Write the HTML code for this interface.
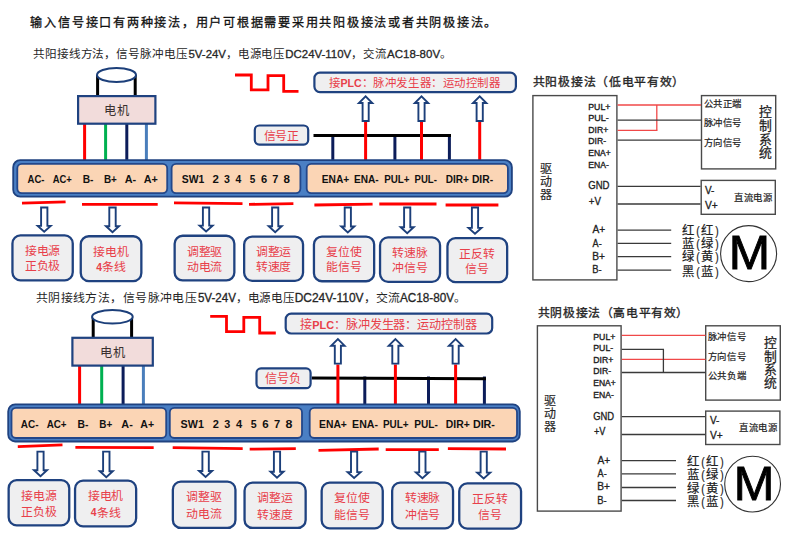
<!DOCTYPE html>
<html lang="zh-CN"><head><meta charset="utf-8"><title>输入信号接线图</title>
<style>
html,body{margin:0;padding:0;background:#fff;}
body{width:790px;height:540px;overflow:hidden;font-family:"Liberation Sans",sans-serif;}
svg{display:block;}
svg text{font-family:"Liberation Sans",sans-serif;text-spacing-trim:space-all;}
</style></head><body>
<svg width="790" height="540" viewBox="0 0 790 540">
<rect width="790" height="540" fill="#fff"/>
<text x="30.47" y="27.04" font-size="12.1" fill="#111" textLength="466.00" lengthAdjust="spacing" stroke="#111" stroke-width="0.3">输入信号接口有两种接法，用户可根据需要采用共阳极接法或者共阴极接法。</text>
<text x="33.10" y="58.23" font-size="11.6" fill="#262626" textLength="154.40" lengthAdjust="spacing">共阳接线方法，信号脉冲电压</text>
<text x="188.50" y="58.23" font-size="11.6" fill="#262626" textLength="96.50" lengthAdjust="spacingAndGlyphs"><tspan stroke="#262626" stroke-width="0.3">5V-24V</tspan>，电源电压</text>
<text x="285.30" y="58.23" font-size="11.6" fill="#262626" textLength="101.40" lengthAdjust="spacingAndGlyphs"><tspan stroke="#262626" stroke-width="0.3">DC24V-110V</tspan>，交流</text>
<text x="387.00" y="58.23" font-size="11.6" fill="#262626" textLength="65.00" lengthAdjust="spacingAndGlyphs"><tspan stroke="#262626" stroke-width="0.3">AC18-80V</tspan>。</text>
<text x="35.79" y="302.48" font-size="11.9" fill="#262626" textLength="161.10" lengthAdjust="spacing">共阴接线方法，信号脉冲电压</text>
<text x="197.90" y="302.48" font-size="11.9" fill="#262626" textLength="96.50" lengthAdjust="spacingAndGlyphs"><tspan stroke="#262626" stroke-width="0.3">5V-24V</tspan>，电源电压</text>
<text x="294.70" y="302.48" font-size="11.9" fill="#262626" textLength="105.00" lengthAdjust="spacingAndGlyphs"><tspan stroke="#262626" stroke-width="0.3">DC24V-110V</tspan>，交流</text>
<text x="400.00" y="302.48" font-size="11.9" fill="#262626" textLength="66.00" lengthAdjust="spacingAndGlyphs"><tspan stroke="#262626" stroke-width="0.3">AC18-80V</tspan>。</text>
<line x1="97.6" y1="75" x2="97.6" y2="96.0" stroke="#000" stroke-width="3" stroke-linecap="butt"/>
<line x1="135.2" y1="75" x2="135.2" y2="96.0" stroke="#000" stroke-width="3" stroke-linecap="butt"/>
<ellipse cx="116.5" cy="75" rx="19.5" ry="7" fill="#fff" stroke="#1c3f7a" stroke-width="2"/>
<line x1="84.6" y1="123.8" x2="84.6" y2="160.9" stroke="#ff0000" stroke-width="3" stroke-linecap="butt"/>
<line x1="105.6" y1="123.8" x2="105.6" y2="160.9" stroke="#00b050" stroke-width="3" stroke-linecap="butt"/>
<line x1="126.8" y1="123.8" x2="126.8" y2="160.9" stroke="#0c1d5a" stroke-width="3" stroke-linecap="butt"/>
<line x1="146.4" y1="123.8" x2="146.4" y2="160.9" stroke="#4a7ebb" stroke-width="3" stroke-linecap="butt"/>
<rect x="78.10" y="96.10" width="77.30" height="27.60" rx="0" fill="#f2dcdb" stroke="#1f4280" stroke-width="2.2"/>
<text x="104.31" y="114.81" font-size="12.3" fill="#3a3030" textLength="24.60" lengthAdjust="spacing">电机</text>
<polyline points="235,75 251.3,75 251.3,89.8 268,89.8 268,75.7 283.7,75.7 283.7,91.3 298.5,91.3" fill="none" stroke="#ff0000" stroke-width="2.8"/>
<rect x="314.40" y="72.60" width="201.50" height="19.50" rx="5.5" fill="#efeff0" stroke="#1f4280" stroke-width="2.2"/>
<text x="329.00" y="87.40" font-size="11.9" fill="#e8404a" textLength="171.50" lengthAdjust="spacingAndGlyphs">接<tspan font-weight="bold" font-family="Liberation Sans, sans-serif" font-size="11">PLC</tspan>：脉冲发生器：运动控制器</text>
<line x1="332.8" y1="134" x2="332.8" y2="160" stroke="#0c1d5a" stroke-width="3" stroke-linecap="butt"/>
<line x1="394.9" y1="134" x2="394.9" y2="160" stroke="#0c1d5a" stroke-width="3" stroke-linecap="butt"/>
<line x1="449.4" y1="134" x2="449.4" y2="160" stroke="#0c1d5a" stroke-width="3" stroke-linecap="butt"/>
<line x1="313.5" y1="135.5" x2="451" y2="135.5" stroke="#000" stroke-width="3" stroke-linecap="butt"/>
<line x1="365.6" y1="122.0" x2="365.6" y2="160" stroke="#ff0000" stroke-width="3" stroke-linecap="butt"/>
<polygon points="362.6,121.0 368.7,121.0 368.7,103.0 372.3,103.0 365.6,96.3 358.9,103.0 362.6,103.0" fill="#fff" stroke="#1c3f7a" stroke-width="1.9"/>
<line x1="421.5" y1="122.0" x2="421.5" y2="160" stroke="#ff0000" stroke-width="3" stroke-linecap="butt"/>
<polygon points="418.4,121.0 424.6,121.0 424.6,103.0 428.2,103.0 421.5,96.3 414.8,103.0 418.4,103.0" fill="#fff" stroke="#1c3f7a" stroke-width="1.9"/>
<line x1="479.7" y1="122.0" x2="479.7" y2="160" stroke="#ff0000" stroke-width="3" stroke-linecap="butt"/>
<polygon points="476.6,121.0 482.8,121.0 482.8,103.0 486.4,103.0 479.7,96.3 473.0,103.0 476.6,103.0" fill="#fff" stroke="#1c3f7a" stroke-width="1.9"/>
<rect x="254.80" y="125.50" width="53.40" height="19.10" rx="4.5" fill="#efeff0" stroke="#1f4280" stroke-width="2.2"/>
<text x="263.59" y="140.08" font-size="11.9" fill="#e8404a" textLength="35.70" lengthAdjust="spacing">信号正</text>
<rect x="13.20" y="160.20" width="498.70" height="36.50" rx="7" fill="#4a7fc4" stroke="#1f4280" stroke-width="1.8"/>
<rect x="17.30" y="163.90" width="149.90" height="29.20" rx="4.5" fill="#fbd5b5" stroke="#23478a" stroke-width="1.8"/>
<rect x="171.60" y="163.90" width="128.80" height="29.20" rx="4.5" fill="#fbd5b5" stroke="#23478a" stroke-width="1.8"/>
<rect x="306.70" y="163.90" width="201.20" height="29.20" rx="4.5" fill="#fbd5b5" stroke="#23478a" stroke-width="1.8"/>
<text x="27.56" y="183.20" font-size="10.6" fill="#111" font-weight="bold" textLength="16.89" lengthAdjust="spacingAndGlyphs">AC-</text>
<text x="52.66" y="183.20" font-size="10.6" fill="#111" font-weight="bold" textLength="19.10" lengthAdjust="spacingAndGlyphs">AC+</text>
<text x="82.64" y="183.20" font-size="10.6" fill="#111" font-weight="bold" textLength="10.77" lengthAdjust="spacingAndGlyphs">B-</text>
<text x="103.96" y="183.20" font-size="10.6" fill="#111" font-weight="bold" textLength="12.95" lengthAdjust="spacingAndGlyphs">B+</text>
<text x="124.73" y="183.20" font-size="10.6" fill="#111" font-weight="bold" textLength="11.41" lengthAdjust="spacingAndGlyphs">A-</text>
<text x="143.73" y="183.20" font-size="10.6" fill="#111" font-weight="bold" textLength="14.12" lengthAdjust="spacingAndGlyphs">A+</text>
<text x="181.74" y="183.20" font-size="10.6" fill="#111" font-weight="bold" textLength="22.54" lengthAdjust="spacingAndGlyphs">SW1</text>
<text x="212.56" y="183.20" font-size="10.6" fill="#111" font-weight="bold" textLength="6.36" lengthAdjust="spacingAndGlyphs">2</text>
<text x="224.09" y="183.20" font-size="10.6" fill="#111" font-weight="bold" textLength="5.90" lengthAdjust="spacingAndGlyphs">3</text>
<text x="235.54" y="183.20" font-size="10.6" fill="#111" font-weight="bold" textLength="5.77" lengthAdjust="spacingAndGlyphs">4</text>
<text x="249.70" y="183.20" font-size="10.6" fill="#111" font-weight="bold" textLength="5.56" lengthAdjust="spacingAndGlyphs">5</text>
<text x="261.11" y="183.20" font-size="10.6" fill="#111" font-weight="bold" textLength="6.19" lengthAdjust="spacingAndGlyphs">6</text>
<text x="272.16" y="183.20" font-size="10.6" fill="#111" font-weight="bold" textLength="6.09" lengthAdjust="spacingAndGlyphs">7</text>
<text x="283.55" y="183.20" font-size="10.6" fill="#111" font-weight="bold" textLength="6.45" lengthAdjust="spacingAndGlyphs">8</text>
<text x="321.84" y="183.20" font-size="10.6" fill="#111" font-weight="bold" textLength="27.47" lengthAdjust="spacingAndGlyphs">ENA+</text>
<text x="354.04" y="183.20" font-size="10.6" fill="#111" font-weight="bold" textLength="24.65" lengthAdjust="spacingAndGlyphs">ENA-</text>
<text x="384.16" y="183.20" font-size="10.6" fill="#111" font-weight="bold" textLength="25.32" lengthAdjust="spacingAndGlyphs">PUL+</text>
<text x="414.58" y="183.20" font-size="10.6" fill="#111" font-weight="bold" textLength="22.29" lengthAdjust="spacingAndGlyphs">PUL-</text>
<text x="445.65" y="183.20" font-size="10.6" fill="#111" font-weight="bold" textLength="23.17" lengthAdjust="spacingAndGlyphs">DIR+</text>
<text x="471.93" y="183.20" font-size="10.6" fill="#111" font-weight="bold" textLength="21.18" lengthAdjust="spacingAndGlyphs">DIR-</text>
<line x1="22" y1="203.2" x2="65.6" y2="201.8" stroke="#ff0000" stroke-width="2.8" stroke-linecap="butt"/>
<line x1="82" y1="204.3" x2="157.7" y2="204.3" stroke="#ff0000" stroke-width="2.8" stroke-linecap="butt"/>
<line x1="174" y1="202.8" x2="242.5" y2="203.6" stroke="#ff0000" stroke-width="2.8" stroke-linecap="butt"/>
<line x1="249" y1="204.4" x2="293.4" y2="203.6" stroke="#ff0000" stroke-width="2.8" stroke-linecap="butt"/>
<line x1="314.4" y1="205" x2="372.6" y2="204.2" stroke="#ff0000" stroke-width="2.8" stroke-linecap="butt"/>
<line x1="379.3" y1="204" x2="436.5" y2="204" stroke="#ff0000" stroke-width="2.8" stroke-linecap="butt"/>
<line x1="445.6" y1="205" x2="498.4" y2="205" stroke="#ff0000" stroke-width="2.8" stroke-linecap="butt"/>
<polygon points="41.1,207.5 47.4,207.5 47.4,225.9 50.7,225.9 44.2,231.8 37.7,225.9 41.1,225.9" fill="#fff" stroke="#1c3f7a" stroke-width="1.9"/>
<polygon points="109.3,207.5 115.7,207.5 115.7,226.2 119.0,226.2 112.5,232.1 106.0,226.2 109.3,226.2" fill="#fff" stroke="#1c3f7a" stroke-width="1.9"/>
<polygon points="202.9,207.5 209.2,207.5 209.2,225.6 212.6,225.6 206.1,231.5 199.6,225.6 202.9,225.6" fill="#fff" stroke="#1c3f7a" stroke-width="1.9"/>
<polygon points="272.1,207.5 278.3,207.5 278.3,226.2 281.7,226.2 275.2,232.1 268.7,226.2 272.1,226.2" fill="#fff" stroke="#1c3f7a" stroke-width="1.9"/>
<polygon points="344.7,207.5 350.9,207.5 350.9,226.5 354.3,226.5 347.8,232.4 341.3,226.5 344.7,226.5" fill="#fff" stroke="#1c3f7a" stroke-width="1.9"/>
<polygon points="404.1,207.5 410.3,207.5 410.3,227.2 413.7,227.2 407.2,233.1 400.7,227.2 404.1,227.2" fill="#fff" stroke="#1c3f7a" stroke-width="1.9"/>
<polygon points="471.9,207.5 478.1,207.5 478.1,227.9 481.5,227.9 475.0,233.8 468.5,227.9 471.9,227.9" fill="#fff" stroke="#1c3f7a" stroke-width="1.9"/>
<rect x="12.45" y="235.45" width="60.30" height="44.90" rx="8" fill="#efeff0" stroke="#1f4280" stroke-width="2.3"/>
<text x="24.75" y="255.38" font-size="11.9" fill="#e8404a" textLength="35.70" lengthAdjust="spacing">接电源</text>
<text x="24.75" y="270.38" font-size="11.9" fill="#e8404a" textLength="35.70" lengthAdjust="spacing">正负极</text>
<rect x="80.75" y="236.25" width="60.60" height="44.80" rx="8" fill="#efeff0" stroke="#1f4280" stroke-width="2.3"/>
<text x="93.20" y="256.18" font-size="11.9" fill="#e8404a" textLength="35.70" lengthAdjust="spacing">接电机</text>
<text x="96.19" y="270.50" font-size="10.8" fill="#e8404a" font-weight="bold" textLength="5.77" lengthAdjust="spacingAndGlyphs">4</text>
<text x="102.24" y="271.18" font-size="11.9" fill="#e8404a" textLength="23.80" lengthAdjust="spacing">条线</text>
<rect x="174.65" y="235.75" width="59.70" height="44.70" rx="8" fill="#efeff0" stroke="#1f4280" stroke-width="2.3"/>
<text x="186.65" y="255.68" font-size="11.9" fill="#e8404a" textLength="35.70" lengthAdjust="spacing">调整驱</text>
<text x="186.65" y="270.68" font-size="11.9" fill="#e8404a" textLength="35.70" lengthAdjust="spacing">动电流</text>
<rect x="244.15" y="236.55" width="58.90" height="44.30" rx="8" fill="#efeff0" stroke="#1f4280" stroke-width="2.3"/>
<text x="255.75" y="256.48" font-size="11.9" fill="#e8404a" textLength="35.70" lengthAdjust="spacing">调整运</text>
<text x="255.75" y="271.48" font-size="11.9" fill="#e8404a" textLength="35.70" lengthAdjust="spacing">转速度</text>
<rect x="313.95" y="236.55" width="60.20" height="44.70" rx="8" fill="#efeff0" stroke="#1f4280" stroke-width="2.3"/>
<text x="326.20" y="256.48" font-size="11.9" fill="#e8404a" textLength="35.70" lengthAdjust="spacing">复位使</text>
<text x="326.20" y="271.48" font-size="11.9" fill="#e8404a" textLength="35.70" lengthAdjust="spacing">能信号</text>
<rect x="380.05" y="237.45" width="60.00" height="44.40" rx="8" fill="#efeff0" stroke="#1f4280" stroke-width="2.3"/>
<text x="392.20" y="257.38" font-size="11.9" fill="#e8404a" textLength="35.70" lengthAdjust="spacing">转速脉</text>
<text x="392.20" y="272.38" font-size="11.9" fill="#e8404a" textLength="35.70" lengthAdjust="spacing">冲信号</text>
<rect x="447.45" y="238.15" width="59.70" height="44.00" rx="8" fill="#efeff0" stroke="#1f4280" stroke-width="2.3"/>
<text x="459.45" y="258.08" font-size="11.9" fill="#e8404a" textLength="35.70" lengthAdjust="spacing">正反转</text>
<text x="465.40" y="273.08" font-size="11.9" fill="#e8404a" textLength="23.80" lengthAdjust="spacing">信号</text>
<line x1="93.2" y1="316.8" x2="93.2" y2="337.7" stroke="#000" stroke-width="3" stroke-linecap="butt"/>
<line x1="131.6" y1="316.8" x2="131.6" y2="337.7" stroke="#000" stroke-width="3" stroke-linecap="butt"/>
<ellipse cx="112.4" cy="316.8" rx="20.3" ry="6.8" fill="#fff" stroke="#1c3f7a" stroke-width="2"/>
<line x1="79.6" y1="365.7" x2="79.6" y2="405.2" stroke="#ff0000" stroke-width="3" stroke-linecap="butt"/>
<line x1="101.7" y1="365.7" x2="101.7" y2="405.2" stroke="#00b050" stroke-width="3" stroke-linecap="butt"/>
<line x1="123.1" y1="365.7" x2="123.1" y2="405.2" stroke="#0c1d5a" stroke-width="3" stroke-linecap="butt"/>
<line x1="143.4" y1="365.7" x2="143.4" y2="405.2" stroke="#4a7ebb" stroke-width="3" stroke-linecap="butt"/>
<rect x="72.40" y="337.80" width="80.40" height="27.80" rx="0" fill="#f2dcdb" stroke="#1f4280" stroke-width="2.2"/>
<text x="100.16" y="356.61" font-size="12.3" fill="#3a3030" textLength="24.60" lengthAdjust="spacing">电机</text>
<polyline points="210.2,316.3 226.5,316.3 226.5,331.6 243.8,331.6 243.8,317.3 259.7,317.3 259.7,333 275.8,333" fill="none" stroke="#ff0000" stroke-width="2.8"/>
<rect x="285.70" y="313.70" width="206.50" height="19.80" rx="5.5" fill="#efeff0" stroke="#1f4280" stroke-width="2.2"/>
<text x="300.30" y="328.60" font-size="12.2" fill="#e8404a" textLength="176.50" lengthAdjust="spacingAndGlyphs">接<tspan font-weight="bold" font-family="Liberation Sans, sans-serif" font-size="11">PLC</tspan>：脉冲发生器：运动控制器</text>
<line x1="364.8" y1="376.5" x2="364.8" y2="404" stroke="#0c1d5a" stroke-width="3" stroke-linecap="butt"/>
<line x1="428.5" y1="376.5" x2="428.5" y2="404" stroke="#0c1d5a" stroke-width="3" stroke-linecap="butt"/>
<line x1="484.4" y1="376.5" x2="484.4" y2="404" stroke="#0c1d5a" stroke-width="3" stroke-linecap="butt"/>
<line x1="311.7" y1="378" x2="486" y2="378.8" stroke="#000" stroke-width="3" stroke-linecap="butt"/>
<line x1="337.9" y1="364.5" x2="337.9" y2="404" stroke="#ff0000" stroke-width="3" stroke-linecap="butt"/>
<polygon points="334.8,363.6 340.9,363.6 340.9,345.7 344.6,345.7 337.9,339.0 331.2,345.7 334.8,345.7" fill="#fff" stroke="#1c3f7a" stroke-width="1.9"/>
<line x1="395.4" y1="364.5" x2="395.4" y2="404" stroke="#ff0000" stroke-width="3" stroke-linecap="butt"/>
<polygon points="392.3,363.6 398.4,363.6 398.4,345.7 402.1,345.7 395.4,339.0 388.7,345.7 392.3,345.7" fill="#fff" stroke="#1c3f7a" stroke-width="1.9"/>
<line x1="455.6" y1="364.5" x2="455.6" y2="404" stroke="#ff0000" stroke-width="3" stroke-linecap="butt"/>
<polygon points="452.6,363.6 458.7,363.6 458.7,345.7 462.3,345.7 455.6,339.0 448.9,345.7 452.6,345.7" fill="#fff" stroke="#1c3f7a" stroke-width="1.9"/>
<rect x="256.50" y="368.40" width="54.10" height="19.80" rx="4.5" fill="#efeff0" stroke="#1f4280" stroke-width="2.2"/>
<text x="265.07" y="383.24" font-size="12.1" fill="#e8404a" textLength="36.30" lengthAdjust="spacing">信号负</text>
<rect x="8.20" y="404.40" width="511.60" height="37.10" rx="7" fill="#4a7fc4" stroke="#1f4280" stroke-width="1.8"/>
<rect x="11.50" y="407.90" width="154.70" height="30.10" rx="4.5" fill="#fbd5b5" stroke="#23478a" stroke-width="1.8"/>
<rect x="169.80" y="407.90" width="132.20" height="30.10" rx="4.5" fill="#fbd5b5" stroke="#23478a" stroke-width="1.8"/>
<rect x="309.70" y="407.90" width="207.30" height="30.10" rx="4.5" fill="#fbd5b5" stroke="#23478a" stroke-width="1.8"/>
<text x="20.85" y="428.00" font-size="10.6" fill="#111" font-weight="bold" textLength="17.72" lengthAdjust="spacingAndGlyphs">AC-</text>
<text x="46.65" y="428.00" font-size="10.6" fill="#111" font-weight="bold" textLength="19.92" lengthAdjust="spacingAndGlyphs">AC+</text>
<text x="77.53" y="428.00" font-size="10.6" fill="#111" font-weight="bold" textLength="10.89" lengthAdjust="spacingAndGlyphs">B-</text>
<text x="99.36" y="428.00" font-size="10.6" fill="#111" font-weight="bold" textLength="12.95" lengthAdjust="spacingAndGlyphs">B+</text>
<text x="121.33" y="428.00" font-size="10.6" fill="#111" font-weight="bold" textLength="11.41" lengthAdjust="spacingAndGlyphs">A-</text>
<text x="140.34" y="428.00" font-size="10.6" fill="#111" font-weight="bold" textLength="13.80" lengthAdjust="spacingAndGlyphs">A+</text>
<text x="180.63" y="428.00" font-size="10.6" fill="#111" font-weight="bold" textLength="23.26" lengthAdjust="spacingAndGlyphs">SW1</text>
<text x="212.67" y="428.00" font-size="10.6" fill="#111" font-weight="bold" textLength="6.13" lengthAdjust="spacingAndGlyphs">2</text>
<text x="224.28" y="428.00" font-size="10.6" fill="#111" font-weight="bold" textLength="6.01" lengthAdjust="spacingAndGlyphs">3</text>
<text x="236.03" y="428.00" font-size="10.6" fill="#111" font-weight="bold" textLength="6.18" lengthAdjust="spacingAndGlyphs">4</text>
<text x="250.68" y="428.00" font-size="10.6" fill="#111" font-weight="bold" textLength="5.90" lengthAdjust="spacingAndGlyphs">5</text>
<text x="262.20" y="428.00" font-size="10.6" fill="#111" font-weight="bold" textLength="6.42" lengthAdjust="spacingAndGlyphs">6</text>
<text x="273.95" y="428.00" font-size="10.6" fill="#111" font-weight="bold" textLength="6.21" lengthAdjust="spacingAndGlyphs">7</text>
<text x="285.63" y="428.00" font-size="10.6" fill="#111" font-weight="bold" textLength="6.90" lengthAdjust="spacingAndGlyphs">8</text>
<text x="319.03" y="428.00" font-size="10.6" fill="#111" font-weight="bold" textLength="27.89" lengthAdjust="spacingAndGlyphs">ENA+</text>
<text x="352.11" y="428.00" font-size="10.6" fill="#111" font-weight="bold" textLength="25.80" lengthAdjust="spacingAndGlyphs">ENA-</text>
<text x="382.95" y="428.00" font-size="10.6" fill="#111" font-weight="bold" textLength="25.74" lengthAdjust="spacingAndGlyphs">PUL+</text>
<text x="414.24" y="428.00" font-size="10.6" fill="#111" font-weight="bold" textLength="23.54" lengthAdjust="spacingAndGlyphs">PUL-</text>
<text x="445.82" y="428.00" font-size="10.6" fill="#111" font-weight="bold" textLength="24.01" lengthAdjust="spacingAndGlyphs">DIR+</text>
<text x="472.90" y="428.00" font-size="10.6" fill="#111" font-weight="bold" textLength="22.03" lengthAdjust="spacingAndGlyphs">DIR-</text>
<line x1="17.8" y1="446.6" x2="62.5" y2="444.9" stroke="#ff0000" stroke-width="2.8" stroke-linecap="butt"/>
<line x1="75.4" y1="447.4" x2="153.7" y2="447.6" stroke="#ff0000" stroke-width="2.8" stroke-linecap="butt"/>
<line x1="172.7" y1="447.6" x2="242.7" y2="448.6" stroke="#ff0000" stroke-width="2.8" stroke-linecap="butt"/>
<line x1="249.7" y1="449.2" x2="295.8" y2="448.6" stroke="#ff0000" stroke-width="2.8" stroke-linecap="butt"/>
<line x1="318.5" y1="450.4" x2="378.7" y2="449" stroke="#ff0000" stroke-width="2.8" stroke-linecap="butt"/>
<line x1="385.7" y1="449.6" x2="438.8" y2="449.6" stroke="#ff0000" stroke-width="2.8" stroke-linecap="butt"/>
<line x1="447.9" y1="448.6" x2="506" y2="449" stroke="#ff0000" stroke-width="2.8" stroke-linecap="butt"/>
<polygon points="37.4,451.6 43.6,451.6 43.6,470.2 47.0,470.2 40.5,476.1 34.0,470.2 37.4,470.2" fill="#fff" stroke="#1c3f7a" stroke-width="1.9"/>
<polygon points="103.1,451.6 109.5,451.6 109.5,471.2 112.8,471.2 106.3,477.1 99.8,471.2 103.1,471.2" fill="#fff" stroke="#1c3f7a" stroke-width="1.9"/>
<polygon points="202.4,451.6 208.8,451.6 208.8,471.0 212.1,471.0 205.6,476.9 199.1,471.0 202.4,471.0" fill="#fff" stroke="#1c3f7a" stroke-width="1.9"/>
<polygon points="273.9,451.6 280.1,451.6 280.1,471.8 283.5,471.8 277.0,477.7 270.5,471.8 273.9,471.8" fill="#fff" stroke="#1c3f7a" stroke-width="1.9"/>
<polygon points="351.0,451.6 357.2,451.6 357.2,472.1 360.6,472.1 354.1,478.0 347.6,472.1 351.0,472.1" fill="#fff" stroke="#1c3f7a" stroke-width="1.9"/>
<polygon points="419.2,451.6 425.5,451.6 425.5,472.4 428.9,472.4 422.4,478.3 415.9,472.4 419.2,472.4" fill="#fff" stroke="#1c3f7a" stroke-width="1.9"/>
<polygon points="480.6,451.6 486.8,451.6 486.8,472.6 490.2,472.6 483.7,478.5 477.2,472.6 480.6,472.6" fill="#fff" stroke="#1c3f7a" stroke-width="1.9"/>
<rect x="8.65" y="480.15" width="60.60" height="45.20" rx="8" fill="#efeff0" stroke="#1f4280" stroke-width="2.3"/>
<text x="21.10" y="499.88" font-size="11.9" fill="#e8404a" textLength="35.70" lengthAdjust="spacing">接电源</text>
<text x="21.10" y="516.08" font-size="11.9" fill="#e8404a" textLength="35.70" lengthAdjust="spacing">正负极</text>
<rect x="75.05" y="480.65" width="61.10" height="45.70" rx="8" fill="#efeff0" stroke="#1f4280" stroke-width="2.3"/>
<text x="87.75" y="500.38" font-size="11.9" fill="#e8404a" textLength="35.70" lengthAdjust="spacing">接电机</text>
<text x="90.74" y="515.90" font-size="10.8" fill="#e8404a" font-weight="bold" textLength="5.77" lengthAdjust="spacingAndGlyphs">4</text>
<text x="96.79" y="516.58" font-size="11.9" fill="#e8404a" textLength="23.80" lengthAdjust="spacing">条线</text>
<rect x="172.85" y="481.65" width="62.60" height="46.30" rx="8" fill="#efeff0" stroke="#1f4280" stroke-width="2.3"/>
<text x="186.30" y="501.38" font-size="11.9" fill="#e8404a" textLength="35.70" lengthAdjust="spacing">调整驱</text>
<text x="186.30" y="517.58" font-size="11.9" fill="#e8404a" textLength="35.70" lengthAdjust="spacing">动电流</text>
<rect x="244.55" y="482.65" width="61.10" height="45.30" rx="8" fill="#efeff0" stroke="#1f4280" stroke-width="2.3"/>
<text x="257.25" y="502.38" font-size="11.9" fill="#e8404a" textLength="35.70" lengthAdjust="spacing">调整运</text>
<text x="257.25" y="518.58" font-size="11.9" fill="#e8404a" textLength="35.70" lengthAdjust="spacing">转速度</text>
<rect x="321.65" y="482.65" width="61.10" height="45.70" rx="8" fill="#efeff0" stroke="#1f4280" stroke-width="2.3"/>
<text x="334.35" y="502.38" font-size="11.9" fill="#e8404a" textLength="35.70" lengthAdjust="spacing">复位使</text>
<text x="334.35" y="518.58" font-size="11.9" fill="#e8404a" textLength="35.70" lengthAdjust="spacing">能信号</text>
<rect x="392.15" y="482.65" width="60.90" height="45.70" rx="8" fill="#efeff0" stroke="#1f4280" stroke-width="2.3"/>
<text x="404.75" y="502.38" font-size="11.9" fill="#e8404a" textLength="35.70" lengthAdjust="spacing">转速脉</text>
<text x="404.75" y="518.58" font-size="11.9" fill="#e8404a" textLength="35.70" lengthAdjust="spacing">冲信号</text>
<rect x="459.25" y="483.35" width="61.80" height="45.30" rx="8" fill="#efeff0" stroke="#1f4280" stroke-width="2.3"/>
<text x="472.30" y="503.08" font-size="11.9" fill="#e8404a" textLength="35.70" lengthAdjust="spacing">正反转</text>
<text x="478.25" y="519.28" font-size="11.9" fill="#e8404a" textLength="23.80" lengthAdjust="spacing">信号</text>
<text x="532.79" y="86.19" font-size="11.8" fill="#262626" textLength="151.50" lengthAdjust="spacing" stroke="#262626" stroke-width="0.35">共阳极接法（低电平有效）</text>
<rect x="532.90" y="95.60" width="84.00" height="184.30" rx="0" fill="none" stroke="#4a4a4a" stroke-width="1.4"/>
<text x="588.30" y="109.60" font-size="9.8" fill="#222" textLength="22.03" lengthAdjust="spacingAndGlyphs" stroke="#222" stroke-width="0.4">PUL+</text>
<text x="588.28" y="121.40" font-size="9.8" fill="#222" textLength="20.62" lengthAdjust="spacingAndGlyphs" stroke="#222" stroke-width="0.4">PUL-</text>
<text x="588.31" y="132.80" font-size="9.8" fill="#222" textLength="19.93" lengthAdjust="spacingAndGlyphs" stroke="#222" stroke-width="0.4">DIR+</text>
<text x="588.31" y="144.30" font-size="9.8" fill="#222" textLength="17.78" lengthAdjust="spacingAndGlyphs" stroke="#222" stroke-width="0.4">DIR-</text>
<text x="588.32" y="156.10" font-size="9.8" fill="#222" textLength="22.41" lengthAdjust="spacingAndGlyphs" stroke="#222" stroke-width="0.4">ENA+</text>
<text x="588.31" y="167.50" font-size="9.8" fill="#222" textLength="20.57" lengthAdjust="spacingAndGlyphs" stroke="#222" stroke-width="0.4">ENA-</text>
<text x="588.22" y="189.00" font-size="10.3" fill="#222" textLength="21.33" lengthAdjust="spacingAndGlyphs" stroke="#222" stroke-width="0.3">GND</text>
<text x="588.86" y="204.50" font-size="10.3" fill="#222" textLength="12.15" lengthAdjust="spacingAndGlyphs" stroke="#222" stroke-width="0.3">+V</text>
<text x="592.60" y="233.20" font-size="10.3" fill="#222" textLength="12.72" lengthAdjust="spacingAndGlyphs" stroke="#222" stroke-width="0.3">A+</text>
<text x="592.60" y="246.90" font-size="10.3" fill="#222" textLength="9.11" lengthAdjust="spacingAndGlyphs" stroke="#222" stroke-width="0.3">A-</text>
<text x="592.29" y="260.10" font-size="10.3" fill="#222" textLength="12.73" lengthAdjust="spacingAndGlyphs" stroke="#222" stroke-width="0.3">B+</text>
<text x="592.35" y="273.40" font-size="10.3" fill="#222" textLength="9.37" lengthAdjust="spacingAndGlyphs" stroke="#222" stroke-width="0.3">B-</text>
<text x="539.68" y="173.36" font-size="12.0" fill="#262626" textLength="12.00" lengthAdjust="spacing" stroke="#262626" stroke-width="0.15">驱</text>
<text x="539.68" y="186.36" font-size="12.0" fill="#262626" textLength="12.00" lengthAdjust="spacing" stroke="#262626" stroke-width="0.15">动</text>
<text x="539.68" y="199.36" font-size="12.0" fill="#262626" textLength="12.00" lengthAdjust="spacing" stroke="#262626" stroke-width="0.15">器</text>
<rect x="701.50" y="95.60" width="74.20" height="73.30" rx="0" fill="none" stroke="#4a4a4a" stroke-width="1.4"/>
<line x1="617.6" y1="105.0" x2="701" y2="105.0" stroke="#f04848" stroke-width="1.3" stroke-linecap="butt"/>
<line x1="656.8" y1="105.0" x2="656.8" y2="130.4" stroke="#f04848" stroke-width="1.3" stroke-linecap="butt"/>
<line x1="617.6" y1="130.4" x2="657.4" y2="130.4" stroke="#f04848" stroke-width="1.3" stroke-linecap="butt"/>
<line x1="617.6" y1="120.2" x2="701" y2="120.2" stroke="#3a3a3a" stroke-width="1.3" stroke-linecap="butt"/>
<line x1="617.6" y1="140.2" x2="701" y2="140.2" stroke="#3a3a3a" stroke-width="1.3" stroke-linecap="butt"/>
<text x="703.74" y="107.20" font-size="9.4" fill="#222" textLength="37.60" lengthAdjust="spacing" stroke="#222" stroke-width="0.2">公共正端</text>
<text x="703.74" y="126.10" font-size="9.4" fill="#222" textLength="37.60" lengthAdjust="spacing" stroke="#222" stroke-width="0.2">脉冲信号</text>
<text x="703.74" y="145.60" font-size="9.4" fill="#222" textLength="37.60" lengthAdjust="spacing" stroke="#222" stroke-width="0.2">方向信号</text>
<text x="758.63" y="115.92" font-size="12.8" fill="#222" textLength="12.80" lengthAdjust="spacing" stroke="#222" stroke-width="0.25">控</text>
<text x="758.63" y="129.72" font-size="12.8" fill="#222" textLength="12.80" lengthAdjust="spacing" stroke="#222" stroke-width="0.25">制</text>
<text x="758.63" y="143.52" font-size="12.8" fill="#222" textLength="12.80" lengthAdjust="spacing" stroke="#222" stroke-width="0.25">系</text>
<text x="758.63" y="157.32" font-size="12.8" fill="#222" textLength="12.80" lengthAdjust="spacing" stroke="#222" stroke-width="0.25">统</text>
<rect x="701.20" y="180.40" width="74.10" height="33.90" rx="0" fill="none" stroke="#4a4a4a" stroke-width="1.4"/>
<line x1="617.6" y1="186.3" x2="700.5" y2="186.3" stroke="#3a3a3a" stroke-width="1.3" stroke-linecap="butt"/>
<line x1="617.6" y1="204.0" x2="700.5" y2="204.0" stroke="#3a3a3a" stroke-width="1.3" stroke-linecap="butt"/>
<text x="704.90" y="193.60" font-size="10.3" fill="#222" textLength="9.45" lengthAdjust="spacingAndGlyphs" stroke="#222" stroke-width="0.3">V-</text>
<text x="704.90" y="208.50" font-size="10.3" fill="#222" textLength="12.82" lengthAdjust="spacingAndGlyphs" stroke="#222" stroke-width="0.3">V+</text>
<text x="734.34" y="200.70" font-size="9.4" fill="#222" textLength="37.60" lengthAdjust="spacing" stroke="#222" stroke-width="0.2">直流电源</text>
<line x1="617.6" y1="230.1" x2="671.2" y2="230.1" stroke="#3a3a3a" stroke-width="1.3" stroke-linecap="butt"/>
<line x1="617.6" y1="243.4" x2="671.2" y2="243.4" stroke="#3a3a3a" stroke-width="1.3" stroke-linecap="butt"/>
<line x1="617.6" y1="256.6" x2="671.2" y2="256.6" stroke="#3a3a3a" stroke-width="1.3" stroke-linecap="butt"/>
<line x1="617.6" y1="270.1" x2="671.2" y2="270.1" stroke="#3a3a3a" stroke-width="1.3" stroke-linecap="butt"/>
<text x="682.16" y="235.49" font-size="12.4" fill="#222" textLength="12.40" lengthAdjust="spacing" stroke="#222" stroke-width="0.2">红</text>
<text x="701.16" y="235.49" font-size="12.4" fill="#222" textLength="12.40" lengthAdjust="spacing" stroke="#222" stroke-width="0.2">红</text>
<text x="696.28" y="235.30" font-size="12.8" fill="#222" textLength="3.45" lengthAdjust="spacingAndGlyphs" stroke="#222" stroke-width="0.2">(</text>
<text x="715.15" y="235.30" font-size="12.8" fill="#222" textLength="3.45" lengthAdjust="spacingAndGlyphs" stroke="#222" stroke-width="0.2">)</text>
<text x="682.16" y="248.39" font-size="12.4" fill="#222" textLength="12.40" lengthAdjust="spacing" stroke="#222" stroke-width="0.2">蓝</text>
<text x="701.16" y="248.39" font-size="12.4" fill="#222" textLength="12.40" lengthAdjust="spacing" stroke="#222" stroke-width="0.2">绿</text>
<text x="696.28" y="248.20" font-size="12.8" fill="#222" textLength="3.45" lengthAdjust="spacingAndGlyphs" stroke="#222" stroke-width="0.2">(</text>
<text x="715.15" y="248.20" font-size="12.8" fill="#222" textLength="3.45" lengthAdjust="spacingAndGlyphs" stroke="#222" stroke-width="0.2">)</text>
<text x="682.16" y="261.29" font-size="12.4" fill="#222" textLength="12.40" lengthAdjust="spacing" stroke="#222" stroke-width="0.2">绿</text>
<text x="701.16" y="261.29" font-size="12.4" fill="#222" textLength="12.40" lengthAdjust="spacing" stroke="#222" stroke-width="0.2">黄</text>
<text x="696.28" y="261.10" font-size="12.8" fill="#222" textLength="3.45" lengthAdjust="spacingAndGlyphs" stroke="#222" stroke-width="0.2">(</text>
<text x="715.15" y="261.10" font-size="12.8" fill="#222" textLength="3.45" lengthAdjust="spacingAndGlyphs" stroke="#222" stroke-width="0.2">)</text>
<text x="682.16" y="275.69" font-size="12.4" fill="#222" textLength="12.40" lengthAdjust="spacing" stroke="#222" stroke-width="0.2">黑</text>
<text x="701.16" y="275.69" font-size="12.4" fill="#222" textLength="12.40" lengthAdjust="spacing" stroke="#222" stroke-width="0.2">蓝</text>
<text x="696.28" y="275.50" font-size="12.8" fill="#222" textLength="3.45" lengthAdjust="spacingAndGlyphs" stroke="#222" stroke-width="0.2">(</text>
<text x="715.15" y="275.50" font-size="12.8" fill="#222" textLength="3.45" lengthAdjust="spacingAndGlyphs" stroke="#222" stroke-width="0.2">)</text>
<circle cx="748.6" cy="253.6" r="28.0" fill="none" stroke="#333" stroke-width="1.1"/>
<text x="728.73" y="268.80" font-size="49.0" fill="#000" textLength="41.34" lengthAdjust="spacingAndGlyphs" stroke="#000" stroke-width="0.9">M</text>
<text x="537.79" y="317.19" font-size="11.8" fill="#262626" textLength="150.50" lengthAdjust="spacing" stroke="#262626" stroke-width="0.35">共阴极接法（高电平有效）</text>
<rect x="537.40" y="325.80" width="83.70" height="185.30" rx="0" fill="none" stroke="#4a4a4a" stroke-width="1.4"/>
<text x="593.30" y="340.30" font-size="9.8" fill="#222" textLength="22.03" lengthAdjust="spacingAndGlyphs" stroke="#222" stroke-width="0.4">PUL+</text>
<text x="593.30" y="351.40" font-size="9.8" fill="#222" textLength="19.88" lengthAdjust="spacingAndGlyphs" stroke="#222" stroke-width="0.4">PUL-</text>
<text x="593.31" y="363.20" font-size="9.8" fill="#222" textLength="19.93" lengthAdjust="spacingAndGlyphs" stroke="#222" stroke-width="0.4">DIR+</text>
<text x="593.31" y="374.30" font-size="9.8" fill="#222" textLength="17.78" lengthAdjust="spacingAndGlyphs" stroke="#222" stroke-width="0.4">DIR-</text>
<text x="593.32" y="386.10" font-size="9.8" fill="#222" textLength="22.41" lengthAdjust="spacingAndGlyphs" stroke="#222" stroke-width="0.4">ENA+</text>
<text x="593.31" y="397.50" font-size="9.8" fill="#222" textLength="20.57" lengthAdjust="spacingAndGlyphs" stroke="#222" stroke-width="0.4">ENA-</text>
<text x="593.23" y="419.60" font-size="10.3" fill="#222" textLength="20.91" lengthAdjust="spacingAndGlyphs" stroke="#222" stroke-width="0.3">GND</text>
<text x="593.89" y="435.10" font-size="10.3" fill="#222" textLength="11.52" lengthAdjust="spacingAndGlyphs" stroke="#222" stroke-width="0.3">+V</text>
<text x="597.60" y="463.60" font-size="10.3" fill="#222" textLength="12.72" lengthAdjust="spacingAndGlyphs" stroke="#222" stroke-width="0.3">A+</text>
<text x="597.60" y="476.90" font-size="10.3" fill="#222" textLength="9.11" lengthAdjust="spacingAndGlyphs" stroke="#222" stroke-width="0.3">A-</text>
<text x="597.29" y="490.40" font-size="10.3" fill="#222" textLength="12.73" lengthAdjust="spacingAndGlyphs" stroke="#222" stroke-width="0.3">B+</text>
<text x="597.35" y="503.50" font-size="10.3" fill="#222" textLength="9.37" lengthAdjust="spacingAndGlyphs" stroke="#222" stroke-width="0.3">B-</text>
<text x="543.88" y="404.76" font-size="12.0" fill="#262626" textLength="12.00" lengthAdjust="spacing" stroke="#262626" stroke-width="0.15">驱</text>
<text x="543.88" y="417.76" font-size="12.0" fill="#262626" textLength="12.00" lengthAdjust="spacing" stroke="#262626" stroke-width="0.15">动</text>
<text x="543.88" y="430.76" font-size="12.0" fill="#262626" textLength="12.00" lengthAdjust="spacing" stroke="#262626" stroke-width="0.15">器</text>
<rect x="705.70" y="325.80" width="74.60" height="74.30" rx="0" fill="none" stroke="#4a4a4a" stroke-width="1.4"/>
<line x1="621.8" y1="335.4" x2="705.5" y2="335.4" stroke="#f04848" stroke-width="1.3" stroke-linecap="butt"/>
<line x1="621.8" y1="359.4" x2="705.5" y2="359.4" stroke="#f04848" stroke-width="1.3" stroke-linecap="butt"/>
<line x1="621.8" y1="349.3" x2="664.0" y2="349.3" stroke="#3a3a3a" stroke-width="1.3" stroke-linecap="butt"/>
<line x1="663.4" y1="349.3" x2="663.4" y2="372.5" stroke="#3a3a3a" stroke-width="1.3" stroke-linecap="butt"/>
<line x1="621.8" y1="372.5" x2="705.5" y2="372.5" stroke="#3a3a3a" stroke-width="1.3" stroke-linecap="butt"/>
<text x="707.94" y="340.40" font-size="9.4" fill="#222" textLength="37.60" lengthAdjust="spacing" stroke="#222" stroke-width="0.2">脉冲信号</text>
<text x="707.94" y="359.70" font-size="9.4" fill="#222" textLength="37.60" lengthAdjust="spacing" stroke="#222" stroke-width="0.2">方向信号</text>
<text x="707.94" y="378.70" font-size="9.4" fill="#222" textLength="37.60" lengthAdjust="spacing" stroke="#222" stroke-width="0.2">公共负端</text>
<text x="763.83" y="347.22" font-size="12.8" fill="#222" textLength="12.80" lengthAdjust="spacing" stroke="#222" stroke-width="0.25">控</text>
<text x="763.83" y="360.62" font-size="12.8" fill="#222" textLength="12.80" lengthAdjust="spacing" stroke="#222" stroke-width="0.25">制</text>
<text x="763.83" y="374.02" font-size="12.8" fill="#222" textLength="12.80" lengthAdjust="spacing" stroke="#222" stroke-width="0.25">系</text>
<text x="763.83" y="387.42" font-size="12.8" fill="#222" textLength="12.80" lengthAdjust="spacing" stroke="#222" stroke-width="0.25">统</text>
<rect x="705.70" y="411.10" width="74.20" height="33.40" rx="0" fill="none" stroke="#4a4a4a" stroke-width="1.4"/>
<line x1="621.8" y1="416.7" x2="705.0" y2="416.7" stroke="#3a3a3a" stroke-width="1.3" stroke-linecap="butt"/>
<line x1="621.8" y1="434.5" x2="705.0" y2="434.5" stroke="#3a3a3a" stroke-width="1.3" stroke-linecap="butt"/>
<text x="709.90" y="424.30" font-size="10.3" fill="#222" textLength="9.45" lengthAdjust="spacingAndGlyphs" stroke="#222" stroke-width="0.3">V-</text>
<text x="709.90" y="439.20" font-size="10.3" fill="#222" textLength="12.82" lengthAdjust="spacingAndGlyphs" stroke="#222" stroke-width="0.3">V+</text>
<text x="739.04" y="431.10" font-size="9.4" fill="#222" textLength="37.60" lengthAdjust="spacing" stroke="#222" stroke-width="0.2">直流电源</text>
<line x1="621.8" y1="460.7" x2="676.0" y2="460.7" stroke="#3a3a3a" stroke-width="1.3" stroke-linecap="butt"/>
<line x1="621.8" y1="473.9" x2="676.0" y2="473.9" stroke="#3a3a3a" stroke-width="1.3" stroke-linecap="butt"/>
<line x1="621.8" y1="487.5" x2="676.0" y2="487.5" stroke="#3a3a3a" stroke-width="1.3" stroke-linecap="butt"/>
<line x1="621.8" y1="500.5" x2="676.0" y2="500.5" stroke="#3a3a3a" stroke-width="1.3" stroke-linecap="butt"/>
<text x="687.16" y="466.19" font-size="12.4" fill="#222" textLength="12.40" lengthAdjust="spacing" stroke="#222" stroke-width="0.2">红</text>
<text x="706.16" y="466.19" font-size="12.4" fill="#222" textLength="12.40" lengthAdjust="spacing" stroke="#222" stroke-width="0.2">红</text>
<text x="701.28" y="466.00" font-size="12.8" fill="#222" textLength="3.45" lengthAdjust="spacingAndGlyphs" stroke="#222" stroke-width="0.2">(</text>
<text x="720.15" y="466.00" font-size="12.8" fill="#222" textLength="3.45" lengthAdjust="spacingAndGlyphs" stroke="#222" stroke-width="0.2">)</text>
<text x="687.16" y="479.09" font-size="12.4" fill="#222" textLength="12.40" lengthAdjust="spacing" stroke="#222" stroke-width="0.2">蓝</text>
<text x="706.16" y="479.09" font-size="12.4" fill="#222" textLength="12.40" lengthAdjust="spacing" stroke="#222" stroke-width="0.2">绿</text>
<text x="701.28" y="478.90" font-size="12.8" fill="#222" textLength="3.45" lengthAdjust="spacingAndGlyphs" stroke="#222" stroke-width="0.2">(</text>
<text x="720.15" y="478.90" font-size="12.8" fill="#222" textLength="3.45" lengthAdjust="spacingAndGlyphs" stroke="#222" stroke-width="0.2">)</text>
<text x="687.16" y="492.79" font-size="12.4" fill="#222" textLength="12.40" lengthAdjust="spacing" stroke="#222" stroke-width="0.2">绿</text>
<text x="706.16" y="492.79" font-size="12.4" fill="#222" textLength="12.40" lengthAdjust="spacing" stroke="#222" stroke-width="0.2">黄</text>
<text x="701.28" y="492.60" font-size="12.8" fill="#222" textLength="3.45" lengthAdjust="spacingAndGlyphs" stroke="#222" stroke-width="0.2">(</text>
<text x="720.15" y="492.60" font-size="12.8" fill="#222" textLength="3.45" lengthAdjust="spacingAndGlyphs" stroke="#222" stroke-width="0.2">)</text>
<text x="687.16" y="506.49" font-size="12.4" fill="#222" textLength="12.40" lengthAdjust="spacing" stroke="#222" stroke-width="0.2">黑</text>
<text x="706.16" y="506.49" font-size="12.4" fill="#222" textLength="12.40" lengthAdjust="spacing" stroke="#222" stroke-width="0.2">蓝</text>
<text x="701.28" y="506.30" font-size="12.8" fill="#222" textLength="3.45" lengthAdjust="spacingAndGlyphs" stroke="#222" stroke-width="0.2">(</text>
<text x="720.15" y="506.30" font-size="12.8" fill="#222" textLength="3.45" lengthAdjust="spacingAndGlyphs" stroke="#222" stroke-width="0.2">)</text>
<circle cx="752.6" cy="484.1" r="27.9" fill="none" stroke="#333" stroke-width="1.1"/>
<text x="733.80" y="499.50" font-size="49.0" fill="#000" textLength="40.60" lengthAdjust="spacingAndGlyphs" stroke="#000" stroke-width="0.9">M</text>
</svg>
</body></html>
